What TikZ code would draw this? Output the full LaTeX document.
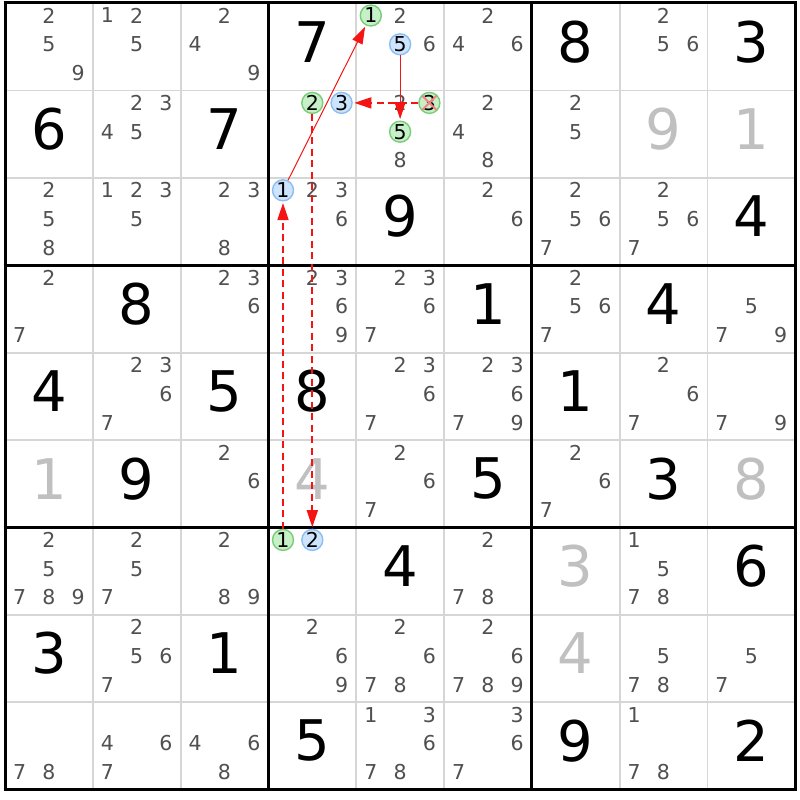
\documentclass[tikz,border=0pt]{standalone}
\usepackage{fontspec}
\setmainfont{DejaVu Sans}
\usetikzlibrary{arrows.meta,calc}
\definecolor{thingrid}{RGB}{214,214,214}
\definecolor{candgray}{RGB}{80,80,80}
\definecolor{givgray}{RGB}{192,192,192}
\definecolor{gfill}{RGB}{200,240,200}
\definecolor{gline}{RGB}{120,205,120}
\definecolor{bfill}{RGB}{205,228,252}
\definecolor{bline}{RGB}{140,190,240}
\definecolor{arrred}{RGB}{245,20,20}
\definecolor{xred}{RGB}{245,130,130}
\begin{document}
\begin{tikzpicture}[x=1pt,y=-1pt,
  cand/.style={inner sep=0pt,text=candgray,font=\fontsize{20.5}{20.5}\selectfont},
  giv/.style={inner sep=0pt,text=black,font=\fontsize{56}{56}\selectfont},
  givg/.style={giv,text=givgray},
  gcirc/.style={circle,draw=gline,fill=gfill,line width=1.4pt,minimum size=21pt,inner sep=0pt,text=black,font=\fontsize{20.5}{20.5}\selectfont},
  bcirc/.style={gcirc,draw=bline,fill=bfill},
  tipshape/.style={-{Triangle[length=17pt,width=11pt]}},
  solidarr/.style={draw=arrred,line width=1pt,shorten >=1.5pt,tipshape},
  dasharr/.style={draw=arrred,line width=1.7pt,shorten >=1.5pt,dash pattern=on 7pt off 4.5pt,tipshape},
  thinline/.style={draw=thingrid,line width=1.8pt},
  thickline/.style={draw=black,line width=3pt},
  xmark/.style={draw=xred,line width=2pt}]
\useasboundingbox (0,0) rectangle (800,800);
\fill[white] (0,0) rectangle (800,800);
\def\gx{5}\def\gy{3}\def\cw{87.8}\def\ch{87.4}
% thin lines
\foreach \i in {1,2,4,5,7,8}{
  \draw[thinline] ({\gx+\cw*\i},\gy) -- ({\gx+\cw*\i},{\gy+9*\ch});
  \draw[thinline] (\gx,{\gy+\ch*\i}) -- ({\gx+9*\cw},{\gy+\ch*\i});
}
% thick lines
\foreach \i in {0,3,6,9}{
  \draw[thickline] ({\gx+\cw*\i},{\gy-1.5}) -- ({\gx+\cw*\i},{\gy+9*\ch+1.5});
  \draw[thickline] ({\gx-1.5},{\gy+\ch*\i}) -- ({\gx+9*\cw+1.5},{\gy+\ch*\i});
}
% given digits
\foreach \r/\c/\d in {1/4/7,1/7/8,1/9/3,2/1/6,2/3/7,3/5/9,3/9/4,4/2/8,4/6/1,4/8/4,
  5/1/4,5/3/5,5/4/8,5/7/1,6/2/9,6/6/5,6/8/3,7/5/4,7/9/6,8/1/3,8/3/1,9/4/5,9/7/9,9/9/2}{
  \node[giv] (g\r\c) at ({\gx+\cw*(\c-0.5)},{\gy+\ch*(\r-0.5)-5}) {\d};
}
\foreach \r/\c/\d in {2/8/9,2/9/1,6/1/1,6/4/4,6/9/8,7/7/3,8/7/4}{
  \node[givg] (g\r\c) at ({\gx+\cw*(\c-0.5)},{\gy+\ch*(\r-0.5)-5}) {\d};
}
% candidates
\foreach \r/\c/\ds in {1/1/{2,5,9},1/2/{1,2,5},1/3/{2,4,9},1/5/{2,6},1/6/{2,4,6},1/8/{2,5,6},
  2/2/{2,3,4,5},2/5/{2,8},2/6/{2,4,8},2/7/{2,5},
  3/1/{2,5,8},3/2/{1,2,3,5},3/3/{2,3,8},3/4/{2,3,6},3/6/{2,6},3/7/{2,5,6,7},3/8/{2,5,6,7},
  4/1/{2,7},4/3/{2,3,6},4/4/{2,3,6,9},4/5/{2,3,6,7},4/7/{2,5,6,7},4/9/{5,7,9},
  5/2/{2,3,6,7},5/5/{2,3,6,7},5/6/{2,3,6,7,9},5/8/{2,6,7},5/9/{7,9},
  6/3/{2,6},6/5/{2,6,7},6/7/{2,6,7},
  7/1/{2,5,7,8,9},7/2/{2,5,7},7/3/{2,8,9},7/6/{2,7,8},7/8/{1,5,7,8},
  8/2/{2,5,6,7},8/4/{2,6,9},8/5/{2,6,7,8},8/6/{2,6,7,8,9},8/8/{5,7,8},8/9/{5,7},
  9/1/{7,8},9/2/{4,6,7},9/3/{4,6,8},9/5/{1,3,6,7,8},9/6/{3,6,7},9/8/{1,7,8}}{
  \foreach \d in \ds {
    \node[cand] (c\r\c\d) at ({\gx+\cw*(\c-1)+14.6+29.3*mod(\d-1,3)},{\gy+\ch*(\r-1)+12.5+28.8*int((\d-1)/3)}) {\d};
  }
}
% circled candidates
\newcommand\cpos[3]{({\gx+\cw*(#2-1)+14.6+29.3*mod(#3-1,3)},{\gy+\ch*(#1-1)+12.5+28.8*int((#3-1)/3)})}
\node[gcirc] (ga) at \cpos{1}{5}{1} {1};
\node[bcirc] (ba) at \cpos{1}{5}{5} {5};
\node[gcirc] (gb) at \cpos{2}{4}{2} {2};
\node[bcirc] (bb) at \cpos{2}{4}{3} {3};
\node[gcirc] (gc) at \cpos{2}{5}{3} {3};
\node[gcirc] (gd) at \cpos{2}{5}{5} {5};
\node[bcirc] (bc) at \cpos{3}{4}{1} {1};
\node[gcirc] (ge) at \cpos{7}{4}{1} {1};
\node[bcirc] (bd) at \cpos{7}{4}{2} {2};
% links
\draw[solidarr] (bc) -- (ga);
\draw[solidarr] (ba) -- (gd);
\draw[dasharr] (gc) -- (bb);
\draw[dasharr] (gb) -- (bd);
\draw[dasharr] (ge) -- (bc);
% elimination mark
\draw[xmark] ($(gc.center)+(-7,-7)$) -- ($(gc.center)+(7,7)$);
\draw[xmark] ($(gc.center)+(-7,7)$) -- ($(gc.center)+(7,-7)$);
\end{tikzpicture}
\end{document}
